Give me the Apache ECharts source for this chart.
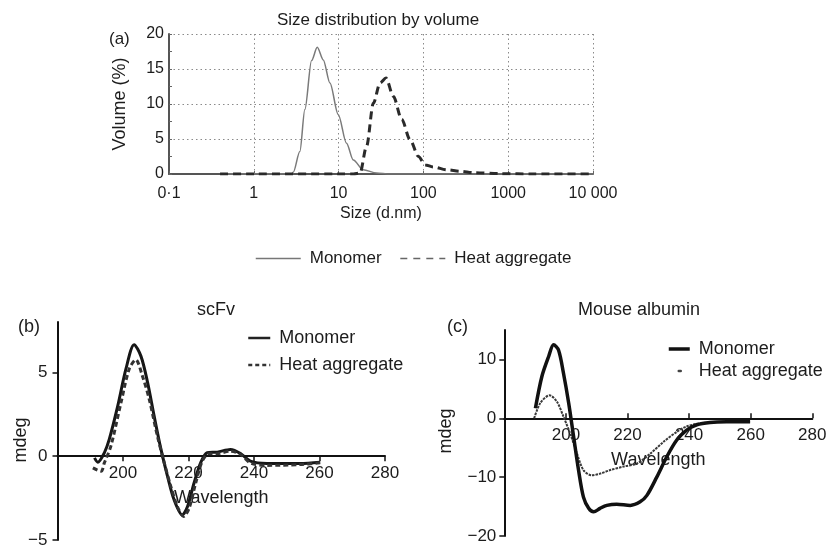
<!DOCTYPE html>
<html><head><meta charset="utf-8">
<script src="https://cdn.jsdelivr.net/npm/echarts@6/dist/echarts.min.js"></script>
<style>html,body{margin:0;padding:0;background:#fff}#c{width:826px;height:549px}</style>
</head><body><div id="c"></div><script>
// ---------- Panel (a): size distribution by volume ----------
const sizeTickLabels = ['0·1', '1', '10', '100', '1000', '10 000'];
const sizeMonomerX = [0.4, 1, 2, 2.8, 2.92, 3.49, 4.0, 4.8, 5.6, 6.6, 7.9, 9.9, 12.4, 14.9, 19.5, 28, 40, 100, 1000, 10000];
const sizeMonomerY = [0, 0, 0, 0, 0.24, 3.2, 9.2, 16.2, 18.1, 16.3, 13, 8.5, 4.4, 2.0, 0.6, 0.15, 0, 0, 0, 0];
const sizeHeatX = [0.4, 1, 10, 15, 17.9, 21.4, 25.7, 30.8, 36.2, 44.2, 55.5, 69.6, 87.4, 105, 131, 189, 271, 390, 805, 2000, 10000];
const sizeHeatY = [0, 0, 0, 0, 0.14, 4.0, 10.1, 13, 13.7, 11.1, 7.8, 4.9, 2.5, 1.3, 1.0, 0.6, 0.4, 0.2, 0.05, 0, 0];

// ---------- Panel (b): scFv CD ----------
const wavelengthTicks = [200, 220, 240, 260, 280];
const scfvTicks = [-5, 0, 5];
const scfvMonoX = [191.3, 192.3, 194.3, 195.8, 198.4, 200.9, 203.4, 205.5, 207.5, 209.5, 211.6, 213.6, 215.6, 218.1, 219.7, 221.7, 223.7, 225.7, 228.8, 232.8, 235.9, 238.9, 244.0, 254.1, 260.2];
const scfvMonoY = [-0.1, -0.36, 0.2, 1.0, 3.0, 5.2, 6.65, 5.95, 4.4, 2.4, 0.4, -1.2, -2.6, -3.5, -3.0, -1.6, -0.4, 0.2, 0.24, 0.4, 0.16, -0.3, -0.44, -0.44, -0.36];
const scfvHeatX = [190.8, 193.3, 194.3, 196.3, 199.4, 201.9, 203.9, 205.9, 208.0, 210.5, 212.6, 214.6, 216.6, 218.5, 220.2, 222.2, 224.2, 226.2, 228.8, 232.8, 235.9, 238.9, 244.0, 254.1, 260.2];
const scfvHeatY = [-0.7, -0.9, -0.4, 0.6, 3.2, 5.2, 5.75, 4.8, 3.4, 1.2, -0.4, -1.8, -3.0, -3.6, -3.1, -1.6, -0.3, 0.15, 0.15, 0.3, 0.1, -0.4, -0.55, -0.5, -0.4];

// ---------- Panel (c): mouse albumin CD ----------
const albuminTicks = [-20, -10, 0, 10];
const albMonoX = [190.1, 192.2, 194.4, 196.0, 197.6, 199.2, 200.9, 202.5, 204.1, 205.7, 207.4, 209.0, 211.1, 213.3, 216.5, 220.9, 224.1, 226.3, 229.5, 232.8, 236.0, 239.2, 242.5, 246.8, 252.2, 259.8];
const albMonoY = [1.7, 7.1, 10.5, 12.5, 11.6, 7.7, 2.6, -3.1, -8.8, -13.4, -15.3, -15.9, -15.3, -14.8, -14.6, -14.8, -14.2, -13.1, -10.0, -6.5, -3.7, -2.0, -1.1, -0.7, -0.6, -0.6];
const albHeatX = [189.7, 191.7, 194.7, 197.1, 199.2, 201.4, 203.6, 205.7, 208.4, 211.1, 214.4, 218.7, 223.0, 227.4, 231.7, 236.0, 239.2, 243.6, 252.2, 259.8];
const albHeatY = [0, 2.6, 3.9, 2.8, 0.3, -2.6, -6.0, -8.8, -9.7, -9.4, -8.8, -8.2, -7.7, -6.0, -4.0, -2.3, -1.4, -0.85, -0.6, -0.6];

const zip = (xs, ys) => xs.map((x, i) => [x, ys[i]]);
const FONT = '"Liberation Sans", Arial, Helvetica, sans-serif';
const TXT = '#1c1c1c';
const minus = v => String(v).replace('-', '\u2212');
const stripName = n => n.replace(/ \([bc]\)$/, '');

const chart = echarts.init(document.getElementById('c'), null, {renderer: 'canvas'});

// labels & name of the CD x axes sit next to the zero line (grid bottom is below it)
const cdX = (gi, tickInside, labelMargin, nameGap) => ({
  gridIndex: gi, type: 'value', min: 180, max: 280, interval: 20,
  axisLine: {show: true, onZero: true, lineStyle: {color: '#111', width: 2}},
  axisTick: {show: true, inside: tickInside, length: 5, customValues: wavelengthTicks, lineStyle: {color: '#111', width: 1.5}},
  axisLabel: {customValues: wavelengthTicks, margin: labelMargin, fontSize: 17, color: TXT, fontFamily: FONT},
  splitLine: {show: false},
  name: 'Wavelength', nameLocation: 'middle', nameGap: nameGap,
  nameTextStyle: {fontSize: 18, color: TXT, fontFamily: FONT}
});
const cdY = (gi, min, max, ticks, margin) => ({
  gridIndex: gi, type: 'value', min: min, max: max,
  axisLine: {show: true, onZero: false, lineStyle: {color: '#111', width: 2}},
  axisTick: {show: true, length: 5, customValues: ticks, lineStyle: {color: '#111', width: 1.5}},
  axisLabel: {customValues: ticks, margin: margin, fontSize: 17, color: TXT, fontFamily: FONT, formatter: minus},
  splitLine: {show: false}
});
const legendBase = {
  selectedMode: false, padding: 0, formatter: stripName,
  itemStyle: {opacity: 0}
};

const option = {
  animation: false,
  backgroundColor: '#fff',
  textStyle: {fontFamily: FONT, color: TXT},
  title: [
    {text: 'Size distribution by volume', left: 373, top: 7, textAlign: 'center', textStyle: {fontSize: 17, fontWeight: 'normal', color: TXT, fontFamily: FONT}},
    {text: '(a)', left: 104, top: 26, textStyle: {fontSize: 17, fontWeight: 'normal', color: TXT, fontFamily: FONT}},
    {text: 'scFv', left: 211, top: 296, textAlign: 'center', textStyle: {fontSize: 18, fontWeight: 'normal', color: TXT, fontFamily: FONT}},
    {text: '(b)', left: 13, top: 313, textStyle: {fontSize: 18, fontWeight: 'normal', color: TXT, fontFamily: FONT}},
    {text: 'Mouse albumin', left: 634, top: 296, textAlign: 'center', textStyle: {fontSize: 18, fontWeight: 'normal', color: TXT, fontFamily: FONT}},
    {text: '(c)', left: 442, top: 313, textStyle: {fontSize: 18, fontWeight: 'normal', color: TXT, fontFamily: FONT}}
  ],
  legend: [
    Object.assign({}, legendBase, {
      data: [
        {name: 'Monomer', lineStyle: {color: '#777', width: 1.5, type: 'solid'}},
        {name: 'Heat aggregate', lineStyle: {color: '#666', width: 1.5, type: [7, 6]}}
      ],
      left: 255, top: 250, itemWidth: 45, itemHeight: 14, itemGap: 18,
      textStyle: {fontSize: 17, color: TXT, fontFamily: FONT, padding: [0, 0, 0, 4]}
    }),
    Object.assign({}, legendBase, {
      data: [
        {name: 'Monomer (b)', lineStyle: {color: '#222', width: 2.5, type: 'solid'}},
        {name: 'Heat aggregate (b)', lineStyle: {color: '#333', width: 2.5, type: [4, 3]}}
      ],
      orient: 'vertical', left: 247, top: 329, itemWidth: 22, itemHeight: 14, itemGap: 9,
      textStyle: {fontSize: 18, color: TXT, fontFamily: FONT, padding: [0, 0, 0, 4]}
    }),
    Object.assign({}, legendBase, {
      data: [
        {name: 'Monomer (c)', lineStyle: {color: '#111', width: 3.5, type: 'solid'}},
        {name: 'Heat aggregate (c)', lineStyle: {color: '#444', width: 2.5, type: [2, 40], dashOffset: 32, cap: 'round'}}
      ],
      orient: 'vertical', left: 667, top: 340, itemWidth: 21, itemHeight: 14, itemGap: 4,
      textStyle: {fontSize: 18, color: TXT, fontFamily: FONT, padding: [0, 0, 0, 4]}
    })
  ],
  grid: [
    {left: 169, top: 34, width: 424, height: 140, outerBoundsMode: 'none', containLabel: false},
    {left: 57.5, top: 322, width: 327.5, height: 218, outerBoundsMode: 'none', containLabel: false},
    {left: 504.3, top: 330, width: 308, height: 206, outerBoundsMode: 'none', containLabel: false}
  ],
  xAxis: [
    {
      gridIndex: 0, type: 'log', logBase: 10, min: 0.1, max: 10000,
      axisLine: {show: true, lineStyle: {color: '#555', width: 2}},
      axisTick: {show: true, inside: true, length: 3, lineStyle: {color: '#666'}},
      axisLabel: {
        margin: 12, fontSize: 16, color: TXT, fontFamily: FONT,
        formatter: v => sizeTickLabels[Math.round(Math.log10(v)) + 1]
      },
      splitLine: {show: true, lineStyle: {type: [1.5, 3], color: '#8a8a8a', width: 1}},
      name: 'Size (d.nm)', nameLocation: 'middle', nameGap: 32,
      nameTextStyle: {fontSize: 16, color: TXT, fontFamily: FONT}
    },
    cdX(1, false, -75, -51),
    cdX(2, true, -109, -85)
  ],
  yAxis: [
    {
      gridIndex: 0, type: 'value', min: 0, max: 20, interval: 5,
      axisLine: {show: true, lineStyle: {color: '#555', width: 2}},
      axisTick: {show: true, inside: true, length: 3, lineStyle: {color: '#666'}},
      minorTick: {show: true, splitNumber: 2, length: 3, lineStyle: {color: '#666'}},
      axisLabel: {margin: 5, fontSize: 16, color: TXT, fontFamily: FONT},
      splitLine: {show: true, lineStyle: {type: [1.5, 3], color: '#8a8a8a', width: 1}},
      name: 'Volume (%)', nameLocation: 'middle', nameGap: 40,
      nameTextStyle: {fontSize: 18, color: TXT, fontFamily: FONT}
    },
    cdY(1, -5, 8, scfvTicks, 10),
    cdY(2, -20, 15, albuminTicks, 8)
  ],
  graphic: [
    {type: 'text', x: 21, y: 440, rotation: Math.PI / 2, style: {text: 'mdeg', font: '18px ' + FONT, fill: TXT, align: 'center', verticalAlign: 'middle'}},
    {type: 'text', x: 446, y: 431, rotation: Math.PI / 2, style: {text: 'mdeg', font: '18px ' + FONT, fill: TXT, align: 'center', verticalAlign: 'middle'}}
  ],
  series: [
    {name: 'Monomer', type: 'line', xAxisIndex: 0, yAxisIndex: 0, data: zip(sizeMonomerX, sizeMonomerY),
     symbol: 'none', smooth: 0.3, smoothMonotone: 'x', lineStyle: {color: '#7a7a7a', width: 1.5}, itemStyle: {color: '#7a7a7a'}, z: 3},
    {name: 'Heat aggregate', type: 'line', xAxisIndex: 0, yAxisIndex: 0, data: zip(sizeHeatX, sizeHeatY),
     symbol: 'none', smooth: 0.3, smoothMonotone: 'x', lineStyle: {color: '#2a2a2a', width: 3, type: [8, 5]}, itemStyle: {color: '#2a2a2a'}, z: 4},
    {name: 'Monomer (b)', type: 'line', xAxisIndex: 1, yAxisIndex: 1, data: zip(scfvMonoX, scfvMonoY),
     symbol: 'none', smooth: 0.3, lineStyle: {color: '#161616', width: 3}, itemStyle: {color: '#161616'}},
    {name: 'Heat aggregate (b)', type: 'line', xAxisIndex: 1, yAxisIndex: 1, data: zip(scfvHeatX, scfvHeatY),
     symbol: 'none', smooth: 0.3, lineStyle: {color: '#333', width: 3, type: [5, 3]}, itemStyle: {color: '#333'}},
    {name: 'Monomer (c)', type: 'line', xAxisIndex: 2, yAxisIndex: 2, data: zip(albMonoX, albMonoY),
     symbol: 'none', smooth: 0.3, lineStyle: {color: '#111', width: 3.5}, itemStyle: {color: '#111'}, z: 4},
    {name: 'Heat aggregate (c)', type: 'line', xAxisIndex: 2, yAxisIndex: 2, data: zip(albHeatX, albHeatY),
     symbol: 'none', smooth: 0.3, lineStyle: {color: '#3a3a3a', width: 2, type: [2.5, 1]}, itemStyle: {color: '#3a3a3a'}, z: 3}
  ]
};
chart.setOption(option);
</script></body></html>
